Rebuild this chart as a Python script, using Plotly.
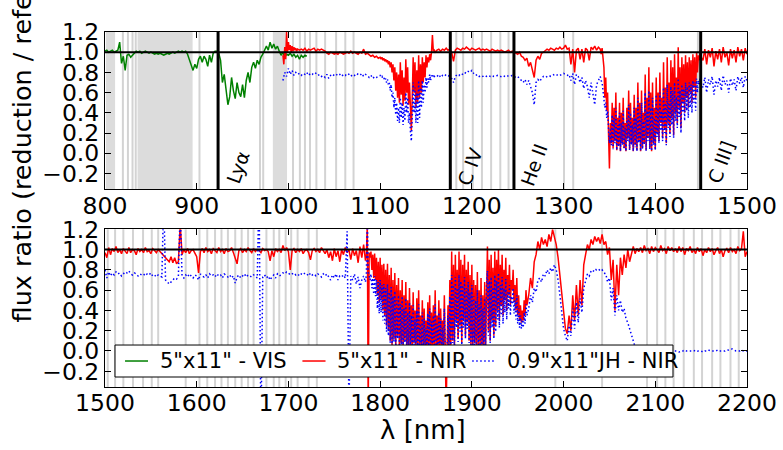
import plotly.graph_objects as go

# ---------------- DATA ----------------
# each flux list is sampled on a regular wavelength grid: (start nm, step nm)
VIS_START, VIS_STEP = 800, 2
vis_flux = [1.01, 1.02, 1.00, 1.01, 1.02, 1.00, 1.01, 1.02, 1.10, 0.89, 0.96, 0.82, 0.97, 0.98, 0.95, 0.97, 1.00,
            1.01, 1.00, 1.01, 0.99, 1.00, 1.01, 1.00, 0.99, 1.00, 0.99, 0.98, 0.99, 0.98, 0.99, 0.98, 0.97,
            0.98, 0.99, 0.98, 0.99, 1.00, 0.99, 1.00, 1.01, 1.00, 1.01, 1.00, 1.01,
            0.98, 0.93, 0.86, 0.82, 0.88, 0.84, 0.93, 0.96, 0.90, 0.96, 0.93, 0.86, 0.97, 0.90, 0.99, 1.01, 1.01,
            0.99, 0.92, 0.70, 0.78, 0.60, 0.48, 0.56, 0.75, 0.62, 0.54,
            0.70, 0.60, 0.56, 0.68, 0.55, 0.72, 0.80, 0.70, 0.85, 0.90,
            0.84, 0.92, 0.88, 0.95, 0.98, 1.03, 1.06, 1.02, 1.10, 1.04,
            1.08, 1.03, 1.06, 1.01, 0.97, 1.00, 0.95, 0.98, 0.97, 0.99,
            0.96, 0.98, 0.95, 0.97, 0.93, 0.97, 0.95, 0.97, 0.96]

# 5"x11" NIR, upper panel
nir_a = (994, 1, [0.97, 0.88, 1.05, 0.93, 1.20, 1.00, 1.10, 1.02, 1.07, 1.00, 1.06, 1.01, 1.05, 1.02, 1.04, 1.01, 1.03])
nir_b = (1012, 2, [1.02, 1.03, 1.02, 1.04, 1.01, 1.03, 1.02, 1.03, 1.04, 1.01, 1.03, 1.02, 1.03, 1.02, 1.01,
                   0.99, 0.98, 1.00, 0.99, 0.98, 0.99, 0.98, 1.00, 0.99, 0.98, 0.99, 1.00, 0.99, 1.01, 0.99,
                   1.00, 0.99, 0.98, 1.00, 0.99, 1.03, 0.98, 0.99, 0.97, 0.96, 0.97, 0.95, 0.96, 0.94])
nir_c = (1100, 1, [0.95, 0.93, 0.95, 0.92, 0.94, 0.91, 0.93, 0.90, 0.92, 0.88,
                   0.91, 0.85, 0.90, 0.80, 0.88, 0.72, 0.85, 0.62, 0.80, 0.55,
                   0.78, 0.50, 0.90, 0.58, 0.82, 0.47, 0.75, 0.52, 0.93, 0.60,
                   0.85, 0.48, 0.70, 0.35, 0.22, 0.55, 0.95, 0.60, 0.90, 0.45,
                   0.82, 0.50, 0.97, 0.55, 0.88, 0.60, 0.95, 0.70, 0.90, 0.75,
                   0.97, 0.85, 0.95, 0.90, 0.98, 0.92, 1.00, 1.17, 1.01, 1.02, 1.00])
nir_d = (1162, 2, [1.02, 1.03, 1.01, 1.03, 1.02, 1.04, 1.02, 1.03,
                   1.00, 0.91, 1.02, 1.04, 1.03, 1.02, 1.04, 1.03, 1.05, 1.03,
                   1.02, 1.04, 1.03, 1.02, 1.03, 1.04, 1.02, 1.03, 1.02, 1.03, 1.02, 1.01,
                   1.03, 1.02, 1.01, 1.02, 1.01, 1.02, 1.01, 1.00, 1.01, 1.02, 1.00, 1.01,
                   1.00, 0.99, 0.98, 1.00, 0.96, 0.95, 0.92, 0.94, 0.86, 0.90, 0.82, 0.75, 0.92, 0.96, 0.93, 0.99, 1.00, 1.02,
                   1.03, 1.02, 1.04, 1.03, 1.02, 1.04, 1.03, 1.05, 1.03, 1.04, 1.07, 1.03, 1.04, 0.88, 1.03,
                   0.80, 1.02, 1.04, 0.93, 1.03, 0.90, 1.04, 1.02, 0.92, 1.05, 1.03, 1.06, 1.02, 1.05])
nir_e = (1340, 1, [1.03, 0.98, 1.04, 0.90, 0.85, 0.55, 0.75, 0.42, 0.60, 0.20,
                   -0.15, 0.30, 0.10, 0.50, 0.05, 0.45, 0.12, 0.60, 0.03, 0.35,
                   0.08, 0.50, 0.02, 0.40, 0.10, 0.55, 0.05, 0.30, 0.02, 0.45,
                   0.15, 0.62, 0.04, 0.50, 0.10, 0.35, 0.02, 0.58, 0.08, 0.45,
                   0.03, 0.70, 0.12, 0.50, 0.02, 0.62, 0.05, 0.40, 0.10, 0.78,
                   0.03, 0.55, 0.15, 0.85, 0.05, 0.60, 0.02, 0.70, 0.10, 0.45,
                   0.04, 0.75, 0.20, 0.60, 0.12, 0.80, 0.30, 0.55, 0.15, 0.90,
                   0.25, 0.65, 0.10, 0.95, 0.30, 0.70, 0.20, 0.92, 0.35, 0.85,
                   0.18, 0.98, 0.40, 0.75, 0.30, 1.05, 0.45, 0.85, 0.25, 0.95,
                   0.50, 0.88, 0.40, 0.97, 0.55, 0.90, 0.45, 0.95, 0.60, 0.92,
                   0.50, 0.98, 0.65, 0.95, 0.55, 1.00, 0.80, 0.97, 0.92, 1.02, 0.95])
nir_f = (1452, 2, [0.92, 1.03, 0.88, 1.02, 0.95, 1.04, 0.86, 1.01, 0.93, 1.03, 0.90, 1.05, 0.95,
                   1.00, 0.87, 1.03, 0.94, 1.02, 0.90, 1.05, 0.96, 1.03, 0.92, 1.04, 0.98])

# 0.9"x11"JH NIR, upper panel
jh_a = (994, 2, [0.72, 0.80, 0.76, 0.84, 0.78, 0.82, 0.77, 0.80, 0.78, 0.79, 0.77,
                 0.79, 0.78, 0.80, 0.77, 0.79, 0.78, 0.80, 0.79, 0.77, 0.78,
                 0.76, 0.77, 0.75, 0.78, 0.74, 0.77, 0.76, 0.78, 0.77, 0.79,
                 0.78, 0.76, 0.78, 0.77, 0.79, 0.78, 0.76, 0.78, 0.77, 0.79,
                 0.78, 0.77, 0.79, 0.76, 0.78, 0.77, 0.75, 0.77, 0.74, 0.76, 0.75, 0.76])
jh_b = (1100, 1, [0.77, 0.75, 0.76, 0.74, 0.75, 0.72, 0.74, 0.70, 0.73, 0.68,
                  0.70, 0.62, 0.68, 0.55, 0.60, 0.45, 0.55, 0.38, 0.50, 0.32,
                  0.45, 0.30, 0.55, 0.35, 0.50, 0.28, 0.45, 0.32, 0.60, 0.40,
                  0.55, 0.30, 0.40, 0.22, 0.12, 0.35, 0.70, 0.40, 0.65, 0.30,
                  0.60, 0.30, 0.72, 0.35, 0.65, 0.45, 0.72, 0.50, 0.68, 0.60,
                  0.75, 0.65, 0.74, 0.70, 0.78, 0.72, 0.77, 0.75, 0.78, 0.76, 0.77])
jh_c = (1162, 2, [0.76, 0.78, 0.75, 0.77, 0.76, 0.78, 0.77, 0.76,
                  0.74, 0.70, 0.76, 0.78, 0.77, 0.79, 0.78, 0.80, 0.79, 0.81,
                  0.80, 0.82, 0.79, 0.77, 0.78, 0.76, 0.77, 0.76, 0.77, 0.76, 0.77, 0.76,
                  0.77, 0.76, 0.76, 0.77, 0.76, 0.76, 0.77, 0.76, 0.77, 0.76, 0.76, 0.77,
                  0.76, 0.75, 0.76, 0.74, 0.72, 0.70, 0.73, 0.68, 0.72, 0.65, 0.60, 0.48, 0.70, 0.73, 0.71, 0.74, 0.76, 0.75,
                  0.76, 0.77, 0.76, 0.77, 0.78, 0.77, 0.78, 0.77, 0.78, 0.79, 0.78, 0.77, 0.78, 0.72, 0.79,
                  0.68, 0.78, 0.76, 0.70, 0.75, 0.64, 0.72, 0.66, 0.55, 0.70, 0.60, 0.48, 0.68, 0.72])
jh_d = (1340, 1, [0.76, 0.72, 0.70, 0.62, 0.55, 0.45, 0.50, 0.35, 0.42, 0.20,
                  0.10, 0.25, 0.08, 0.38, 0.04, 0.35, 0.10, 0.45, 0.03, 0.28,
                  0.06, 0.40, 0.02, 0.30, 0.08, 0.42, 0.04, 0.25, 0.02, 0.35,
                  0.12, 0.48, 0.03, 0.40, 0.08, 0.28, 0.02, 0.45, 0.06, 0.35,
                  0.02, 0.55, 0.10, 0.40, 0.02, 0.50, 0.04, 0.32, 0.08, 0.60,
                  0.02, 0.42, 0.12, 0.62, 0.04, 0.45, 0.02, 0.55, 0.08, 0.35,
                  0.03, 0.58, 0.16, 0.45, 0.10, 0.60, 0.22, 0.42, 0.12, 0.65,
                  0.20, 0.50, 0.08, 0.68, 0.25, 0.52, 0.16, 0.66, 0.28, 0.62,
                  0.15, 0.70, 0.32, 0.56, 0.25, 0.74, 0.36, 0.62, 0.20, 0.68,
                  0.40, 0.64, 0.32, 0.70, 0.42, 0.66, 0.35, 0.70, 0.45, 0.68,
                  0.40, 0.72, 0.50, 0.70, 0.42, 0.74, 0.60, 0.72, 0.68, 0.75, 0.70])
jh_e = (1452, 2, [0.65, 0.75, 0.60, 0.73, 0.68, 0.76, 0.58, 0.72, 0.66, 0.75, 0.62, 0.77, 0.68,
                  0.72, 0.60, 0.74, 0.67, 0.73, 0.62, 0.76, 0.69, 0.75, 0.65, 0.76, 0.72])

# 5"x11" NIR, lower panel
nir_g = (1500, 2, [0.97, 0.92, 1.02, 0.95, 1.01, 0.98, 1.03, 0.97, 1.00, 0.96,
                   1.01, 0.98, 0.96, 1.02, 0.97, 1.00, 0.99, 0.95, 1.01, 0.98,
                   1.00, 0.97, 1.02, 0.98, 0.99, 0.96, 1.01, 0.99, 0.97, 1.00,
                   0.98, 0.96, 0.95, 0.92, 0.90, 0.88, 0.93, 0.87, 0.92, 0.86,
                   0.88, 1.25, 0.95, 1.00, 0.97, 1.01, 0.96, 0.99, 1.00, 0.97,
                   0.93, 0.77, 0.98, 1.01, 0.97, 1.02, 0.98, 1.00, 0.96, 1.01,
                   0.99, 0.97, 1.02, 0.98, 1.00, 0.96, 1.01, 0.98, 0.99, 1.02,
                   0.97, 0.92, 0.86, 0.99, 1.01, 0.97, 1.00, 0.98, 1.02, 0.99,
                   0.97, 1.01, 0.98, 1.00, 0.99, 0.97, 1.01, 0.99, 1.00, 0.98,
                   0.89, 0.99, 0.93, 1.01, 0.98, 1.00, 0.97, 1.04, 0.99, 1.02,
                   0.98, 0.80, 0.99, 1.01, 0.97, 1.00, 0.98, 1.01, 0.96, 0.99,
                   1.00, 0.97, 0.90, 0.99, 1.01, 0.98, 1.00, 0.97, 1.02, 0.99,
                   0.96, 1.00, 0.92, 0.98, 0.89, 1.01, 0.93, 0.99, 0.88, 1.00,
                   0.95, 1.02, 0.97, 1.00, 0.90, 1.01, 0.94, 0.99, 0.87, 1.03,
                   0.92, 1.05, 0.89])
nir_h = (1785, 1, [0.95, 1.25, -0.60, 0.97, 0.92, 0.98, 0.80, 0.95, 0.72, 0.96,
                   0.70, 0.92, 0.55, 0.88, 0.48, 0.92, 0.50, 0.85, 0.40, 0.86,
                   0.35, 0.80, 0.25, 0.86, 0.20, 0.75, 0.10, 0.82, 0.06, 0.70,
                   0.12, 0.77, 0.05, 0.65, 0.15, 0.72, 0.02, 0.60, 0.08, 0.70,
                   0.02, 0.55, 0.10, 0.68, 0.03, 0.50, 0.01, 0.62, 0.05, 0.45,
                   0.02, 0.58, 0.08, 0.40, 0.01, 0.52, 0.04, 0.60, 0.02, 0.35,
                   0.05, 0.50, 0.01, 0.42, 0.03, 0.30, 0.02, 0.48, 0.01, 0.55,
                   0.02, 0.38, 0.01, 0.45, 0.03, 0.60, 0.01, 0.35, 0.02, 0.50,
                   0.01, 0.42, 0.02, 0.30, 0.01, 0.55, 0.02, -0.60, 0.03, 0.45,
                   0.05, 0.70, 0.02, 0.98, 0.10, 0.85, 0.04, 0.95, 0.30, 0.80,
                   0.12, 0.98, 0.25, 0.90, 0.08, 0.85, 0.30, 0.95, 0.15, 0.80,
                   0.28, 0.88, 0.10, 0.75, 0.05, 0.85, 0.02, 0.70, 0.08, 0.65,
                   0.02, 0.78, 0.05, 0.60, 0.01, 0.72, 0.03, 0.55, 0.02, 0.68,
                   0.05, 0.85, 1.03, 0.20, 0.90, 0.10, 0.95, 0.30, 0.82, 0.15,
                   0.98, 0.25, 0.90, 0.40, 1.00, 0.30, 0.85, 0.45, 0.95, 0.35,
                   0.80, 0.50, 0.92, 0.40, 0.75, 0.55, 0.85, 0.45, 0.70, 0.60,
                   0.80, 0.48, 0.65, 0.40, 0.72, 0.35, 0.55, 0.30, 0.45, 0.28,
                   0.40, 0.30, 0.50, 0.35, 0.60, 0.45])
nir_i = (1962, 2, [0.55, 0.72, 0.62, 0.88, 0.95, 1.08, 1.00, 1.12, 1.05, 1.10,
                   1.03, 1.15, 1.08, 1.20, 1.12, 1.05, 0.92, 0.75, 0.55, 0.38,
                   0.22, 0.17, 0.35, 0.20, 0.55, 0.30, 0.65, 0.35, 0.70, 0.45,
                   0.85, 0.95, 1.05, 1.00, 1.10, 1.05, 1.13, 1.08, 1.12, 1.06,
                   1.15, 1.05, 1.08, 0.95, 1.02, 0.70, 0.90, 0.40, 0.85, 0.55,
                   0.92, 0.75, 0.95, 0.82, 1.00, 0.88, 0.97, 1.03, 0.96, 1.01,
                   0.98, 1.02, 0.97, 1.04, 0.99, 1.01, 0.96, 1.03, 0.98, 1.02,
                   1.00, 0.97, 1.04, 0.99, 1.01, 0.96, 1.03, 0.99, 1.02, 0.98,
                   1.01, 0.97, 1.03, 0.98, 1.02, 0.95, 1.01, 0.99, 1.03, 0.97,
                   1.00, 0.96, 1.02, 0.98, 1.01, 0.94, 1.00, 0.97, 1.02, 0.98,
                   1.01, 0.95, 0.99, 1.02, 0.96, 1.00, 0.93, 0.99, 1.01, 0.97,
                   1.02, 0.98, 1.00, 0.96, 1.03, 0.99, 1.01, 1.18, 0.93, 0.98])

# 0.9"x11"JH NIR, lower panel
jh_f = (1500, 2, [0.80, 0.72, 0.78, 0.74, 0.77, 0.75, 0.78, 0.76, 0.77, 0.74,
                  0.76, 0.78, 0.77, 0.79, 0.76, 0.75, 0.77, 0.76, 0.74, 0.76,
                  0.75, 0.76, 0.74, 0.76, 0.75, 0.77, 0.74, 0.75, 0.73, 0.75,
                  0.74, 0.73, 1.50, 0.70, 0.68, 0.66, 0.68, 0.70, 0.72, 0.71,
                  0.73, 1.40, 0.74, 0.72, 0.75, 0.73, 0.76, 0.74, 0.72, 0.75,
                  0.74, 0.70, 0.76, 0.74, 0.73, 0.75, 0.72, 0.76, 0.74, 0.75,
                  0.73, 0.76, 0.74, 0.75, 0.72, 0.76, 0.74, 0.73, 0.75, 0.72,
                  0.74, 0.67, 0.73, 0.75, 0.72, 0.74, 0.76, 0.73, 0.75, 0.74,
                  0.73, 0.75, 0.74, 0.72, 1.60, -0.80, 0.73, 0.75, 0.72, 0.74,
                  0.70, 0.73, 0.75, 0.72, 0.76, 0.74, 0.75, 0.77, 0.76, 0.78,
                  0.77, 0.75, 0.76, 0.77, 0.75, 0.76, 0.74, 0.76, 0.75, 0.77,
                  0.76, 0.74, 0.77, 0.75, 0.76, 0.74, 0.76, 0.75, 0.73, 0.76,
                  0.74, 0.76, 0.73, 0.70, 0.75, 0.72, 0.76, 0.70, 0.74, 0.73,
                  0.75, 0.72, 1.18, -0.60, 0.74, 0.70, 0.76, 0.66, 0.73, 0.62,
                  0.70, 0.74, 0.68])
jh_g = (1785, 1, [0.76, 1.40, 0.78, 0.74, 0.70, 0.76, 0.62, 0.72, 0.56, 0.74,
                  0.54, 0.70, 0.42, 0.68, 0.37, 0.70, 0.38, 0.65, 0.30, 0.66,
                  0.27, 0.62, 0.19, 0.66, 0.15, 0.58, 0.08, 0.63, 0.05, 0.54,
                  0.09, 0.59, 0.04, 0.50, 0.12, 0.55, 0.02, 0.46, 0.06, 0.54,
                  0.02, 0.42, 0.08, 0.52, 0.02, 0.38, 0.01, 0.48, 0.04, 0.35,
                  0.02, 0.45, 0.06, 0.31, 0.01, 0.40, 0.03, 0.46, 0.02, 0.27,
                  0.04, 0.38, 0.01, 0.32, 0.02, 0.23, 0.02, 0.37, 0.01, 0.42,
                  0.02, 0.29, 0.01, 0.35, 0.02, 0.46, 0.01, 0.27, 0.02, 0.38,
                  0.01, 0.32, 0.02, 0.23, 0.01, 0.42, 0.02, 0.05, 0.02, 0.35,
                  0.04, 0.54, 0.02, 0.75, 0.08, 0.65, 0.03, 0.73, 0.23, 0.62,
                  0.09, 0.75, 0.19, 0.69, 0.06, 0.65, 0.23, 0.73, 0.12, 0.62,
                  0.22, 0.68, 0.08, 0.58, 0.04, 0.65, 0.02, 0.54, 0.06, 0.50,
                  0.02, 0.60, 0.04, 0.46, 0.01, 0.55, 0.02, 0.42, 0.02, 0.52,
                  0.04, 0.65, 0.79, 0.15, 0.69, 0.08, 0.73, 0.23, 0.63, 0.12,
                  0.75, 0.19, 0.69, 0.31, 0.77, 0.23, 0.65, 0.35, 0.73, 0.27,
                  0.62, 0.38, 0.71, 0.31, 0.58, 0.42, 0.65, 0.35, 0.54, 0.46,
                  0.62, 0.37, 0.50, 0.31, 0.55, 0.27, 0.42, 0.23, 0.35, 0.22,
                  0.31, 0.23, 0.38, 0.27, 0.46, 0.35])
jh_h = (1962, 2, [0.42, 0.55, 0.48, 0.62, 0.58, 0.70, 0.72, 0.68, 0.76, 0.74,
                  0.80, 0.76, 0.82, 0.78, 0.85, 0.80, 0.70, 0.55, 0.35, 0.22,
                  0.15, 0.10, 0.25, 0.15, 0.42, 0.22, 0.48, 0.28, 0.52, 0.38,
                  0.62, 0.70, 0.76, 0.74, 0.79, 0.78, 0.81, 0.80, 0.81, 0.79,
                  0.80, 0.77, 0.76, 0.68, 0.72, 0.50, 0.62, 0.35, 0.55, 0.40,
                  0.50, 0.38, 0.42, 0.32, 0.28, 0.22, 0.15, 0.10, 0.04, 0.01,
                  0.00, 0.01, 0.00, 0.00, 0.01, 0.00, 0.00, -0.01, 0.00, 0.00,
                  0.00, 0.00, 0.01, 0.00, 0.00, 0.00, 0.01, 0.00, 0.00, 0.00,
                  0.00, 0.00, -0.01, 0.00, 0.00, 0.01, 0.00, 0.00, 0.00, 0.00,
                  0.00, 0.01, 0.00, 0.00, 0.00, -0.01, 0.00, 0.00, 0.01, 0.00,
                  0.00, 0.00, 0.00, 0.01, 0.00, 0.00, 0.00, 0.00, 0.01, 0.01,
                  0.02, 0.02, 0.01, 0.00, 0.00, 0.00, 0.01, 0.00, 0.00, 0.00])

# masked (telluric) wavelengths shown as light-grey lines, and dense masked bands
mask_bands_top = [(801.0, 811.0), (835.5, 895.5), (983.0, 998.5)]
mask_lines_top = [819.5, 825, 830, 833.5, 903, 969, 972.5, 1005, 1012.5, 1018, 1023.5, 1030.5,
                  1040, 1052, 1062, 1071, 1183, 1190.5, 1201, 1211, 1221, 1231, 1240,
                  1300.5, 1310.5, 1446.5]
mask_lines_bot = [1503, 1511, 1520, 1530.5, 1541.5, 1551, 1558, 1588, 1603, 1611.5, 1620, 1627,
                  1634, 1642, 1649, 1656, 1662, 1676, 1684, 1690, 1697, 1703, 1710, 1722, 1731,
                  1991, 2042, 2091, 2102, 2111, 2120, 2131, 2142, 2151, 2162, 2171, 2182, 2191]

# emission-line positions (nm) and labels
line_names = ["Lyα", "C IV", "He II", "C III]"]
line_waves = [923.3, 1176.5, 1245.9, 1449.5]
label_y = [-0.14, -0.13, -0.12, -0.085]

top_ticks = [800, 900, 1000, 1100, 1200, 1300, 1400, 1500]
bot_ticks = [1500, 1600, 1700, 1800, 1900, 2000, 2100, 2200]
y_ticks = [-0.2, 0.0, 0.2, 0.4, 0.6, 0.8, 1.0, 1.2]
y_ticktext = ["−0.2", "0.0", "0.2", "0.4", "0.6", "0.8", "1.0", "1.2"]

legend_names = ['5"x11" - VIS', '5"x11" - NIR', '0.9"x11"JH - NIR']


def expand(*segs):
    xs, ys = [], []
    for start, step, vals in segs:
        xs += [start + step * i for i in range(len(vals))]
        ys += list(vals)
    return xs, ys


vis_x, vis_y = expand((VIS_START, VIS_STEP, vis_flux))
nirt_x, nirt_y = expand(nir_a, nir_b, nir_c, nir_d, nir_e, nir_f)
jht_x, jht_y = expand(jh_a, jh_b, jh_c, jh_d, jh_e)
nirb_x, nirb_y = expand(nir_g, nir_h, nir_i)
jhb_x, jhb_y = expand(jh_f, jh_g, jh_h)

GREEN, RED, BLUE = "#008000", "#ff0000", "#0000ff"
GREY = "#d3d3d3"
FONT = "DejaVu Sans"
DOT = "1.5px,2.5px"

fig = go.Figure()
fig.add_trace(go.Scatter(x=vis_x, y=vis_y, mode="lines", line=dict(color=GREEN, width=1.5),
                         name=legend_names[0], showlegend=False, xaxis="x", yaxis="y"))
fig.add_trace(go.Scatter(x=nirt_x, y=nirt_y, mode="lines", line=dict(color=RED, width=1.5),
                         name=legend_names[1], showlegend=False, xaxis="x", yaxis="y"))
fig.add_trace(go.Scatter(x=jht_x, y=jht_y, mode="lines", line=dict(color=BLUE, width=1.5, dash=DOT),
                         name=legend_names[2], showlegend=False, xaxis="x", yaxis="y"))
fig.add_trace(go.Scatter(x=nirb_x, y=nirb_y, mode="lines", line=dict(color=RED, width=1.5),
                         name=legend_names[1], showlegend=False, xaxis="x2", yaxis="y2"))
fig.add_trace(go.Scatter(x=jhb_x, y=jhb_y, mode="lines", line=dict(color=BLUE, width=1.5, dash=DOT),
                         name=legend_names[2], showlegend=False, xaxis="x2", yaxis="y2"))

shapes = []
for a, b in mask_bands_top:
    shapes.append(dict(type="rect", xref="x", yref="y domain", x0=a, x1=b, y0=0, y1=1,
                       fillcolor="#dcdcdc", line=dict(width=0), layer="below"))
for w in mask_lines_top:
    shapes.append(dict(type="line", xref="x", yref="y domain", x0=w, x1=w, y0=0, y1=1,
                       line=dict(color=GREY, width=2), layer="below"))
for w in mask_lines_bot:
    shapes.append(dict(type="line", xref="x2", yref="y2 domain", x0=w, x1=w, y0=0, y1=1,
                       line=dict(color=GREY, width=2), layer="below"))
# unity lines
shapes.append(dict(type="line", xref="x domain", yref="y", x0=0, x1=1, y0=1, y1=1,
                   line=dict(color="black", width=2), layer="above"))
shapes.append(dict(type="line", xref="x2 domain", yref="y2", x0=0, x1=1, y0=1, y1=1,
                   line=dict(color="black", width=2), layer="above"))
for w in line_waves:
    shapes.append(dict(type="line", xref="x", yref="y domain", x0=w, x1=w, y0=0, y1=1,
                       line=dict(color="black", width=3), layer="above"))

annotations = []
for name, w, yy in zip(line_names, line_waves, label_y):
    annotations.append(dict(text=name, x=w + 22, y=yy, xref="x", yref="y", showarrow=False,
                            textangle=-70, xanchor="center", yanchor="middle",
                            font=dict(size=19, color="black", family=FONT)))
annotations.append(dict(text="flux ratio (reduction / reference)", x=-0.129, y=0.76,
                        xref="paper", yref="paper", showarrow=False, textangle=-90,
                        xanchor="center", yanchor="middle",
                        font=dict(size=25.5, color="black", family=FONT)))
annotations.append(dict(text="λ [nm]", x=0.495, y=-0.122, xref="paper", yref="paper",
                        showarrow=False, xanchor="center", yanchor="middle",
                        font=dict(size=26, color="black", family=FONT)))

# legend drawn in the lower panel (box, line samples, labels) in x2/y2 domain coordinates
LEG_BOX = dict(x0=0.0156, x1=0.8847, y0=0.0634, y1=0.2662)
LEG_Y = 0.1648
leg_samples = [(0.0312, 0.0670), (0.3075, 0.3435), (0.5720, 0.6080)]
leg_text_x = [0.0820, 0.3580, 0.6230]
leg_colors = [GREEN, RED, BLUE]
leg_dash = ["solid", "solid", DOT]
shapes.append(dict(type="rect", xref="x2 domain", yref="y2 domain", fillcolor="white",
                   line=dict(color="black", width=1), layer="above", **LEG_BOX))
for (a, b), c, d in zip(leg_samples, leg_colors, leg_dash):
    shapes.append(dict(type="line", xref="x2 domain", yref="y2 domain", x0=a, x1=b, y0=LEG_Y, y1=LEG_Y,
                       line=dict(color=c, width=1.5, dash=d), layer="above"))
for name, tx in zip(legend_names, leg_text_x):
    annotations.append(dict(text=name, x=tx, y=LEG_Y, xref="x2 domain", yref="y2 domain",
                            showarrow=False, xanchor="left", yanchor="middle",
                            font=dict(size=21, color="black", family=FONT)))

axis_common = dict(showline=True, linecolor="black", linewidth=1, mirror="allticks",
                   ticks="inside", ticklen=6, tickwidth=1, tickcolor="black", automargin=False,
                   showgrid=False, zeroline=False, tickfont=dict(size=23.5, color="black", family=FONT))

fig.update_layout(
    width=783, height=450, autosize=False,
    margin=dict(l=105, r=36, t=32, b=63),
    paper_bgcolor="white", plot_bgcolor="white",
    font=dict(family=FONT, color="black"),
    xaxis=dict(domain=[0, 1], range=[800, 1500], anchor="y", tickvals=top_ticks,
               ticktext=[str(t) for t in top_ticks], ticklabelstandoff=-5, **axis_common),
    yaxis=dict(domain=[0.5569, 1], range=[-0.357, 1.2], anchor="x", tickvals=y_ticks,
               ticktext=y_ticktext, **axis_common),
    xaxis2=dict(domain=[0, 1], range=[1500, 2200], anchor="y2", tickvals=bot_ticks,
                ticktext=[str(t) for t in bot_ticks], ticklabelstandoff=-5, **axis_common),
    yaxis2=dict(domain=[0, 0.4442], range=[-0.355, 1.2], anchor="x2", tickvals=y_ticks,
                ticktext=y_ticktext, **axis_common),
    shapes=shapes,
    annotations=annotations,
    showlegend=False,
)

fig.write_html("out.html")
